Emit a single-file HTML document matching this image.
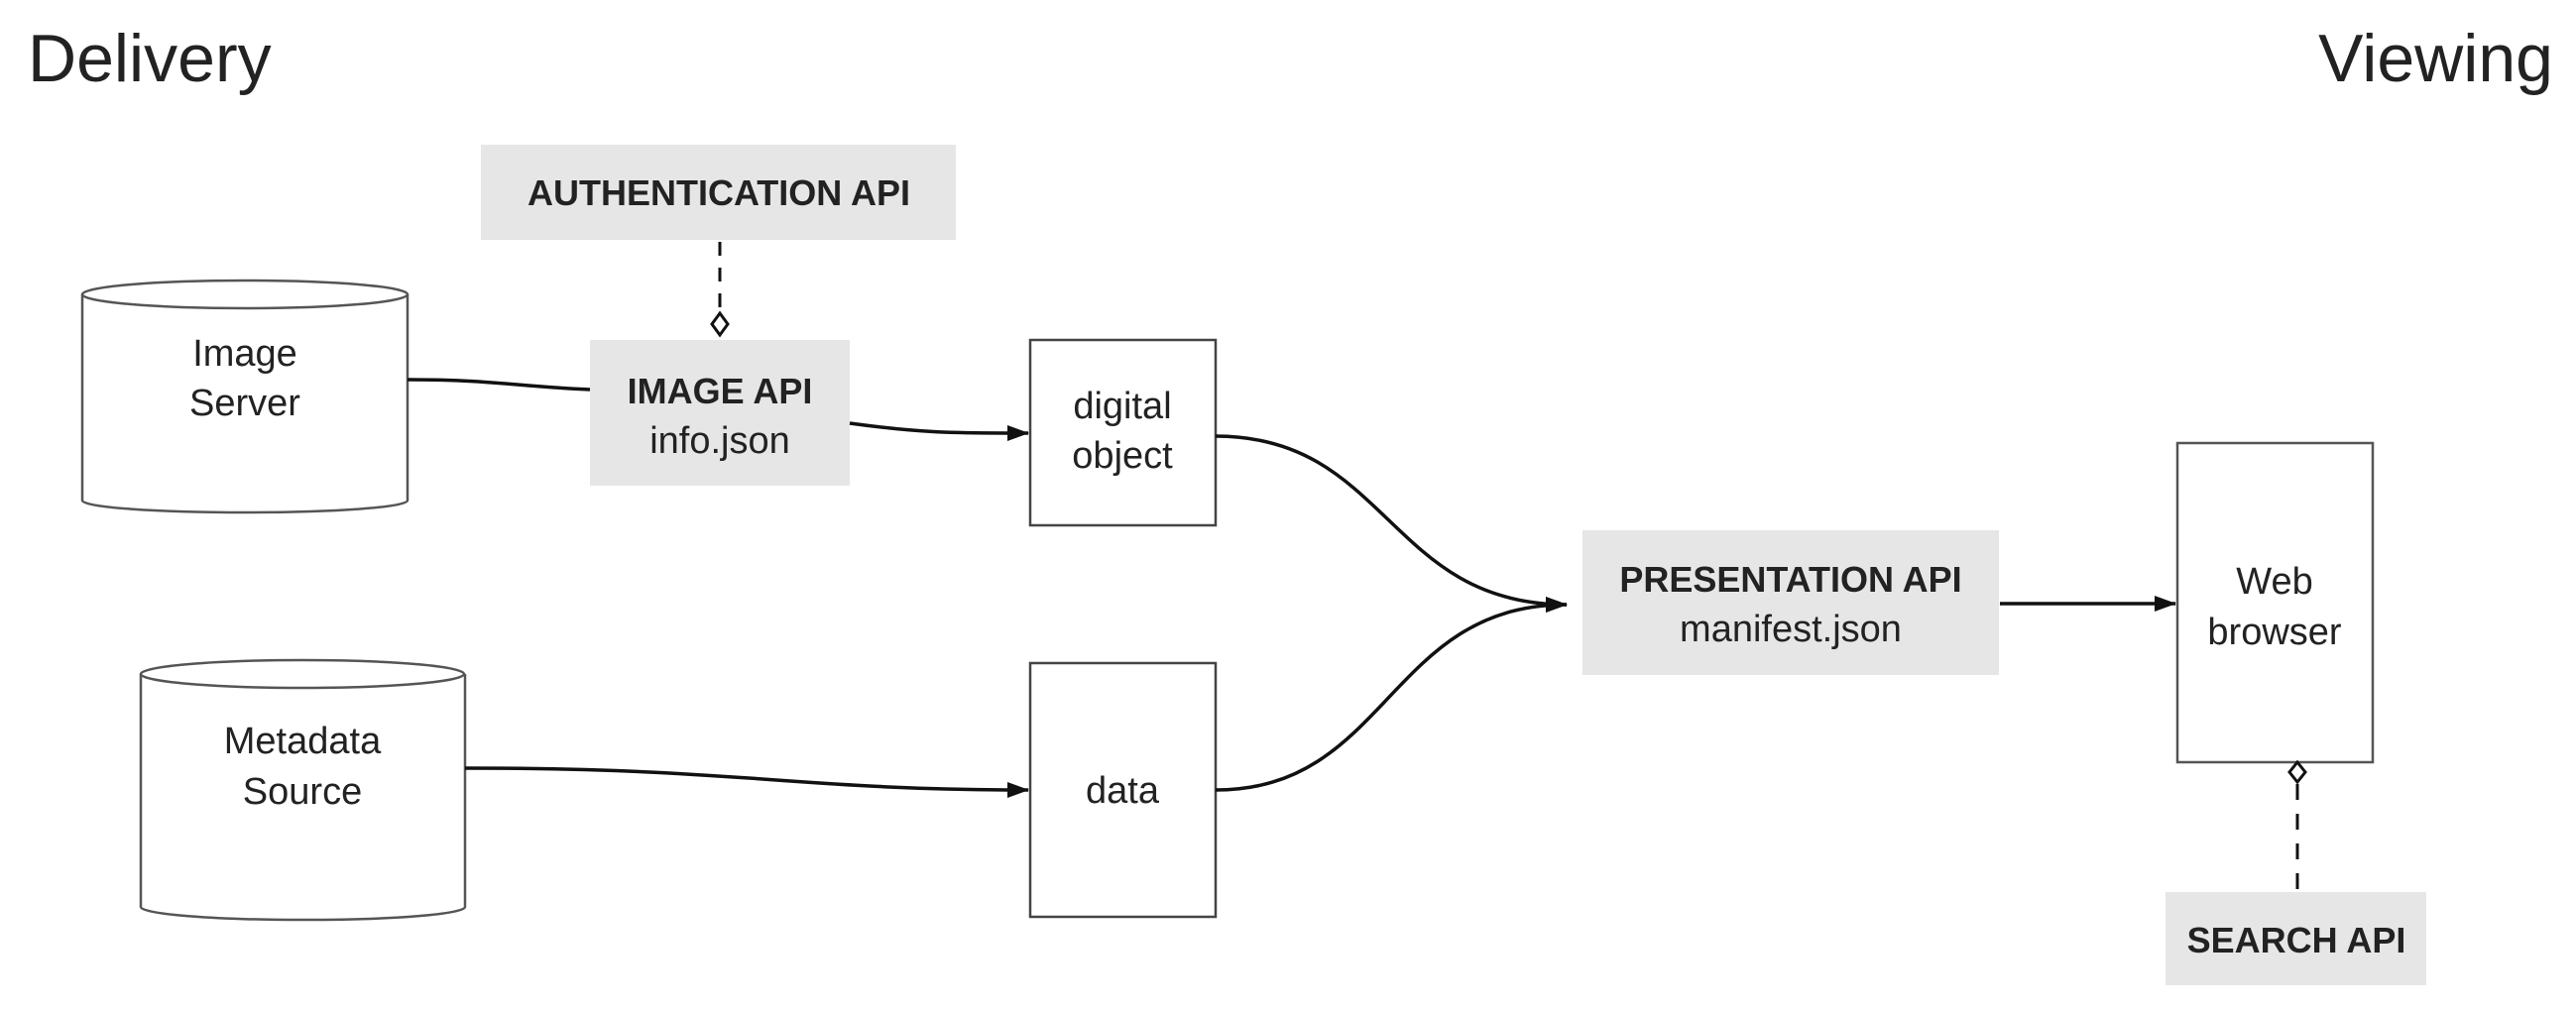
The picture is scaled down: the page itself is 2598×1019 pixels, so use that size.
<!DOCTYPE html>
<html><head><meta charset="utf-8"><style>
html,body{margin:0;padding:0;background:#fff;}
svg{display:block;}
text{font-family:"Liberation Sans","DejaVu Sans",sans-serif;fill:#222;}
.b{font-weight:bold;font-size:36px;}
.n{font-size:38px;}
</style></head><body>
<svg width="2598" height="1019" viewBox="0 0 2598 1019" xmlns="http://www.w3.org/2000/svg">
<defs>
<marker id="ar" markerWidth="22" markerHeight="16" refX="21" refY="8" orient="auto" markerUnits="userSpaceOnUse" viewBox="0 0 22 16">
<path d="M0,0 L22,8 L0,16 Z" fill="#111"/>
</marker>
</defs>
<text x="28" y="82" font-size="68" style="fill:#222">Delivery</text>
<text x="2575" y="82" font-size="68" text-anchor="end" style="fill:#222">Viewing</text>

<rect x="485" y="146" width="479" height="96" fill="#e6e6e6"/>
<text class="b" x="725" y="207" text-anchor="middle">AUTHENTICATION API</text>
<line x1="726" y1="244" x2="726" y2="316" stroke="#111" stroke-width="3" stroke-dasharray="14,12"/>
<path d="M726,316 L734,327 L726,338 L718,327 Z" fill="#fff" stroke="#111" stroke-width="3"/>

<path d="M83,297 L83,505 A164,12 0 0 0 411,505 L411,297" fill="#fff" stroke="#555" stroke-width="2.5"/>
<ellipse cx="247" cy="297" rx="164" ry="14" fill="#fff" stroke="#555" stroke-width="2.5"/>
<text class="n" x="247" y="369" text-anchor="middle">Image</text>
<text class="n" x="247" y="419" text-anchor="middle">Server</text>

<rect x="595" y="343" width="262" height="147" fill="#e6e6e6"/>
<text class="b" x="726" y="407" text-anchor="middle">IMAGE API</text>
<text class="n" x="726" y="457" text-anchor="middle">info.json</text>

<rect x="1039" y="343" width="187" height="187" fill="#fff" stroke="#444" stroke-width="2.5"/>
<text class="n" x="1132" y="422" text-anchor="middle">digital</text>
<text class="n" x="1132" y="472" text-anchor="middle">object</text>

<path d="M142,680 L142,915 A163,13 0 0 0 469,915 L469,680" fill="#fff" stroke="#555" stroke-width="2.5"/>
<ellipse cx="305" cy="680" rx="163" ry="14" fill="#fff" stroke="#555" stroke-width="2.5"/>
<text class="n" x="305" y="760" text-anchor="middle">Metadata</text>
<text class="n" x="305" y="811" text-anchor="middle">Source</text>

<rect x="1039" y="669" width="187" height="256" fill="#fff" stroke="#444" stroke-width="2.5"/>
<text class="n" x="1132" y="810" text-anchor="middle">data</text>

<rect x="1596" y="535" width="420" height="146" fill="#e6e6e6"/>
<text class="b" x="1806" y="597" text-anchor="middle">PRESENTATION API</text>
<text class="n" x="1806" y="647" text-anchor="middle">manifest.json</text>

<rect x="2196" y="447" width="197" height="322" fill="#fff" stroke="#555" stroke-width="2.5"/>
<text class="n" x="2294" y="599" text-anchor="middle">Web</text>
<text class="n" x="2294" y="650" text-anchor="middle">browser</text>

<rect x="2184" y="900" width="263" height="94" fill="#e6e6e6"/>
<text class="b" x="2316" y="961" text-anchor="middle">SEARCH API</text>
<path d="M2317,769 L2325,779 L2317,789 L2309,779 Z" fill="#fff" stroke="#111" stroke-width="3"/>
<line x1="2317" y1="791" x2="2317" y2="898" stroke="#111" stroke-width="3" stroke-dasharray="16,14"/>

<g fill="none" stroke="#111" stroke-width="3.5">
<path d="M411,383 C500,383 520,390 595,393"/>
<path d="M857,427 C930,437 960,437 1037,437" marker-end="url(#ar)"/>
<path d="M1226,440 C1400,440 1400,610 1580,610" marker-end="url(#ar)"/>
<path d="M1226,797 C1400,797 1400,610 1580,610" marker-end="url(#ar)"/>
<path d="M469,775 C750,775 800,797 1037,797" marker-end="url(#ar)"/>
<path d="M2017,609 L2194,609" marker-end="url(#ar)"/>
</g>
</svg>
</body></html>
